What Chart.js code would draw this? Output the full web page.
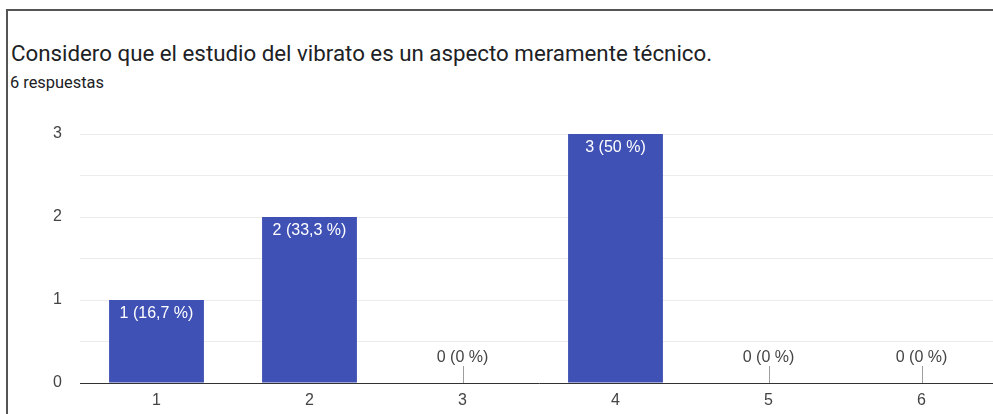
<!DOCTYPE html>
<html>
<head>
<meta charset="utf-8">
<script src="https://cdn.jsdelivr.net/npm/chart.js@4.4.0/dist/chart.umd.min.js"></script>
<style>
    html, body { margin: 0; padding: 0; background: #fff; overflow: hidden; }
    body { width: 993px; height: 414px; position: relative; }
    .frame {
        position: absolute; left: 6px; top: 9px; width: 1000px; height: 420px;
        border-top: 2px solid #555; border-left: 2px solid #555;
    }
    .title {
        position: absolute; left: 11px; top: 40px;
        font-family: Roboto, Arial, sans-serif; font-size: 22.3px; color: #202124;
        white-space: nowrap;
    }
    .subtitle {
        position: absolute; left: 10px; top: 73px;
        font-family: Roboto, Arial, sans-serif; font-size: 16.4px; color: #202124;
    }
    #chartBox { position: absolute; left: 0; top: 100px; width: 998px; height: 314px; }
</style>
</head>
<body>
<div class="frame"></div>
<div class="title">Considero que el estudio del vibrato es un aspecto meramente técnico.</div>
<div class="subtitle">6 respuestas</div>
<div id="chartBox"><canvas id="chart"></canvas></div>
<script>
// Respuestas por valor de la escala
const categories = ['1', '2', '3', '4', '5', '6'];
const counts = [1, 2, 0, 3, 0, 0];
const percentLabels = ['16,7 %', '33,3 %', '0 %', '50 %', '0 %', '0 %'];
const yTicks = [0, 1, 2, 3];

const BAR_COLOR = '#3f51b5';
const LABEL_FONT = '16px Arial, "Liberation Sans", sans-serif';

// Etiquetas "n (p %)": dentro de la barra en blanco, o encima del eje con una marca si es 0
const valueLabels = {
    id: 'valueLabels',
    afterDatasetsDraw(chart) {
        const ctx = chart.ctx;
        const meta = chart.getDatasetMeta(0);
        const xAxisY = chart.scales.y.getPixelForValue(0);
        ctx.save();
        ctx.font = LABEL_FONT;
        ctx.textAlign = 'center';
        ctx.textBaseline = 'middle';
        meta.data.forEach((bar, i) => {
            const text = counts[i] + ' (' + percentLabels[i] + ')';
            if (counts[i] > 0) {
                ctx.fillStyle = '#ffffff';
                ctx.fillText(text, bar.x, bar.y + 14);
            } else {
                ctx.strokeStyle = '#9e9e9e';
                ctx.lineWidth = 1;
                ctx.beginPath();
                ctx.moveTo(Math.round(bar.x) + 0.5, xAxisY - 17);
                ctx.lineTo(Math.round(bar.x) + 0.5, xAxisY);
                ctx.stroke();
                ctx.fillStyle = '#444444';
                ctx.fillText(text, bar.x, xAxisY - 25);
            }
        });
        ctx.restore();
    }
};

new Chart(document.getElementById('chart'), {
    type: 'bar',
    data: {
        labels: categories,
        datasets: [{
            data: counts,
            backgroundColor: BAR_COLOR,
            borderWidth: 0,
            barPercentage: 0.62,
            categoryPercentage: 1.0
        }]
    },
    options: {
        responsive: true,
        maintainAspectRatio: false,
        animation: false,
        layout: { padding: { top: 34, right: 0, bottom: 0, left: 0 } },
        plugins: {
            legend: { display: false },
            tooltip: { enabled: false }
        },
        scales: {
            x: {
                grid: { display: false, drawTicks: false },
                border: { display: true, color: '#333333', width: 1 },
                ticks: {
                    color: '#444444',
                    font: { family: 'Arial, "Liberation Sans", sans-serif', size: 16 },
                    padding: 8
                },
                afterFit(scale) { scale.height = 31; }
            },
            y: {
                min: 0,
                max: 3,
                grid: { color: '#ececec', lineWidth: 1, drawTicks: false },
                border: { display: false },
                ticks: {
                    stepSize: 0.5,
                    color: '#444444',
                    font: { family: 'Arial, "Liberation Sans", sans-serif', size: 16 },
                    padding: 18,
                    callback: (v) => yTicks.includes(v) ? String(v) : ''
                },
                afterFit(scale) { scale.width = 80; }
            }
        }
    },
    plugins: [valueLabels]
});
</script>
</body>
</html>
